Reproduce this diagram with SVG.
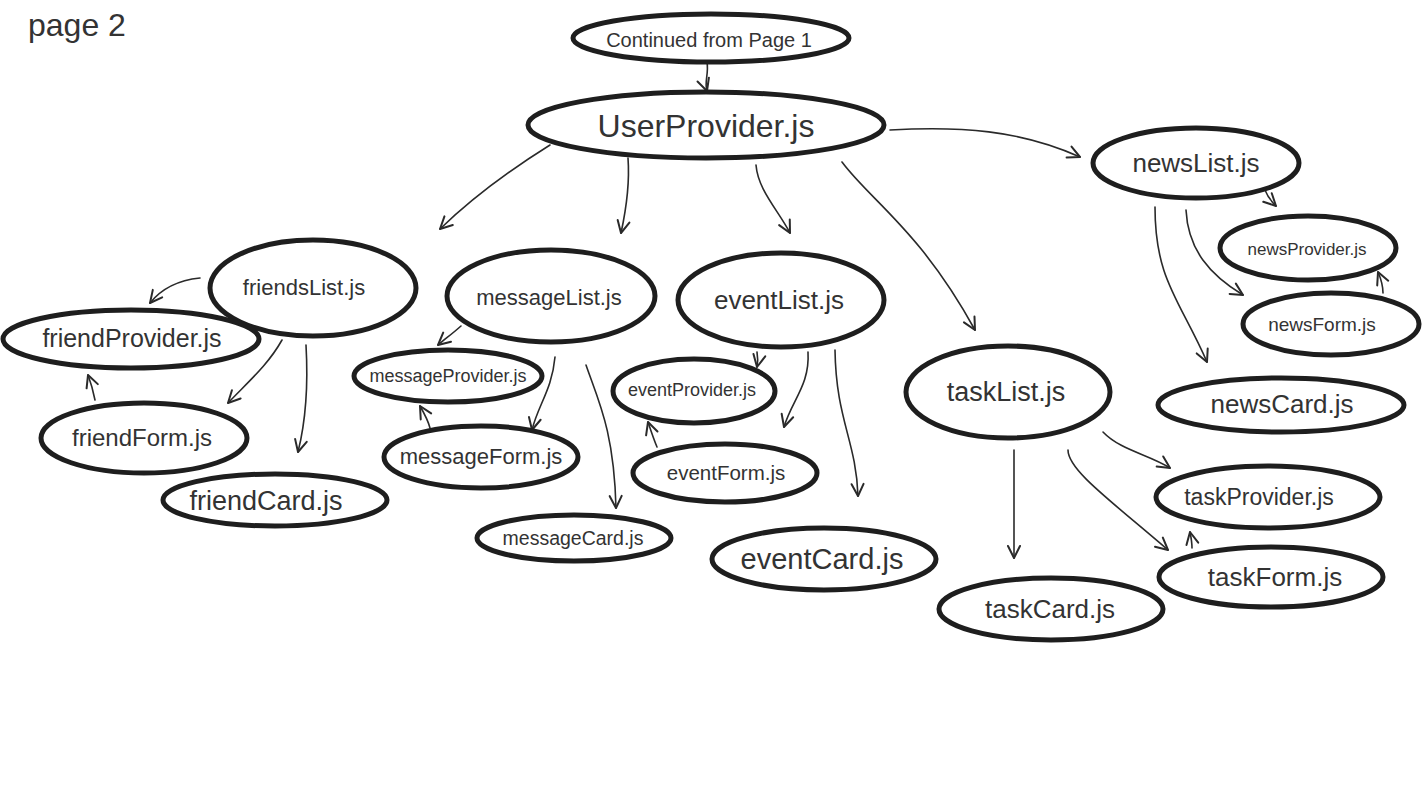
<svg xmlns="http://www.w3.org/2000/svg" width="1422" height="800" viewBox="0 0 1422 800">
  <style>
    .node ellipse { fill: #ffffff; stroke: #1e1e1e; stroke-width: 5; }
    .node text, .title { font-family: "Liberation Sans", Arial, sans-serif; fill: #333333; text-anchor: middle; }
    .title { text-anchor: start; }
    .edges path { fill: none; stroke: #2a2a2a; stroke-width: 1.6; stroke-linecap: round; marker-end: url(#arrow); }
  </style>
  <defs>
    <marker id="arrow" viewBox="0 0 16 16" refX="14" refY="8" markerWidth="16" markerHeight="16" markerUnits="userSpaceOnUse" orient="auto">
      <path d="M2,2 L14,8 L2,14" fill="none" stroke="#2a2a2a" stroke-width="2" stroke-linecap="round" stroke-linejoin="round"/>
    </marker>
  </defs>
  <rect width="1422" height="800" fill="#ffffff"/>

  <text class="title" x="28" y="36" font-size="32">page 2</text>

  <!-- connectors -->
  <g class="edges">
    <path d="M707,62 C709,74 704,82 707,91"/>
    <path d="M890,130 C960,126 1020,130 1080,157"/>
    <path d="M550,145 C510,170 470,200 440,229"/>
    <path d="M628,158 C630,185 626,210 621,233"/>
    <path d="M756,165 C758,190 778,210 790,233"/>
    <path d="M842,162 C870,200 920,230 975,330"/>
    <path d="M1265,190 C1268,198 1272,202 1276,206"/>
    <path d="M1186,210 C1188,250 1210,275 1243,295"/>
    <path d="M1155,207 C1155,280 1180,300 1207,362"/>
    <path d="M1383,293 C1383,285 1381,279 1378,272"/>
    <path d="M200,278 C180,280 162,288 150,303"/>
    <path d="M282,340 C268,365 248,382 228,403"/>
    <path d="M306,345 C308,380 306,420 298,452"/>
    <path d="M95,400 C93,390 91,383 88,375"/>
    <path d="M461,326 C452,334 445,339 438,345"/>
    <path d="M555,357 C552,390 538,405 532,430"/>
    <path d="M586,365 C598,400 614,430 616,508"/>
    <path d="M430,428 C428,420 424,413 420,406"/>
    <path d="M757,352 C758,358 758,362 757,367"/>
    <path d="M808,352 C810,385 792,400 784,427"/>
    <path d="M835,350 C836,420 856,440 858,496"/>
    <path d="M657,447 C654,440 651,431 648,422"/>
    <path d="M1103,432 C1120,450 1150,455 1170,468"/>
    <path d="M1068,450 C1068,470 1110,500 1168,550"/>
    <path d="M1014,450 L1014,558"/>
    <path d="M1192,548 C1192,542 1191,537 1190,532"/>
  </g>

  <!-- nodes -->
  <g id="continued" class="node">
    <ellipse cx="711" cy="38" rx="138" ry="24"/>
    <text x="709" y="47" font-size="20">Continued from Page 1</text>
  </g>
  <g id="userProvider" class="node">
    <ellipse cx="706" cy="125" rx="178" ry="33"/>
    <text x="706" y="137" font-size="32">UserProvider.js</text>
  </g>
  <g id="newsList" class="node">
    <ellipse cx="1196" cy="163" rx="103" ry="35"/>
    <text x="1196" y="172" font-size="26">newsList.js</text>
  </g>
  <g id="newsProvider" class="node">
    <ellipse cx="1308" cy="248" rx="88" ry="32"/>
    <text x="1307" y="255" font-size="17">newsProvider.js</text>
  </g>
  <g id="newsForm" class="node">
    <ellipse cx="1331" cy="324" rx="88" ry="31"/>
    <text x="1322" y="331" font-size="19">newsForm.js</text>
  </g>
  <g id="newsCard" class="node">
    <ellipse cx="1281" cy="405" rx="123" ry="27"/>
    <text x="1282" y="413" font-size="26">newsCard.js</text>
  </g>
  <g id="friendsList" class="node">
    <ellipse cx="313" cy="288" rx="103" ry="48"/>
    <text x="304" y="295" font-size="22">friendsList.js</text>
  </g>
  <g id="friendProvider" class="node">
    <ellipse cx="131" cy="339" rx="128" ry="29"/>
    <text x="132" y="347" font-size="25">friendProvider.js</text>
  </g>
  <g id="friendForm" class="node">
    <ellipse cx="144" cy="438" rx="103" ry="35"/>
    <text x="142" y="446" font-size="24">friendForm.js</text>
  </g>
  <g id="friendCard" class="node">
    <ellipse cx="275" cy="500" rx="112" ry="26"/>
    <text x="266" y="510" font-size="27">friendCard.js</text>
  </g>
  <g id="messageList" class="node">
    <ellipse cx="551" cy="296" rx="104" ry="46"/>
    <text x="549" y="305" font-size="22">messageList.js</text>
  </g>
  <g id="messageProvider" class="node">
    <ellipse cx="448" cy="376" rx="94" ry="26"/>
    <text x="448" y="382" font-size="18">messageProvider.js</text>
  </g>
  <g id="messageForm" class="node">
    <ellipse cx="481" cy="457" rx="97" ry="31"/>
    <text x="481" y="464" font-size="22">messageForm.js</text>
  </g>
  <g id="messageCard" class="node">
    <ellipse cx="574" cy="538" rx="97" ry="23"/>
    <text x="573" y="545" font-size="19.5">messageCard.js</text>
  </g>
  <g id="eventList" class="node">
    <ellipse cx="781" cy="300" rx="103" ry="47"/>
    <text x="779" y="309" font-size="26">eventList.js</text>
  </g>
  <g id="eventProvider" class="node">
    <ellipse cx="694" cy="391" rx="81" ry="32"/>
    <text x="692" y="396" font-size="18">eventProvider.js</text>
  </g>
  <g id="eventForm" class="node">
    <ellipse cx="725" cy="473" rx="92" ry="29"/>
    <text x="726" y="480" font-size="20.5">eventForm.js</text>
  </g>
  <g id="eventCard" class="node">
    <ellipse cx="824" cy="559" rx="112" ry="31"/>
    <text x="822" y="569" font-size="29">eventCard.js</text>
  </g>
  <g id="taskList" class="node">
    <ellipse cx="1008" cy="392" rx="102" ry="46"/>
    <text x="1006" y="401" font-size="27">taskList.js</text>
  </g>
  <g id="taskProvider" class="node">
    <ellipse cx="1268" cy="497" rx="112" ry="31"/>
    <text x="1259" y="505" font-size="23">taskProvider.js</text>
  </g>
  <g id="taskForm" class="node">
    <ellipse cx="1271" cy="577" rx="112" ry="30"/>
    <text x="1275" y="586" font-size="26">taskForm.js</text>
  </g>
  <g id="taskCard" class="node">
    <ellipse cx="1051" cy="609" rx="112" ry="31"/>
    <text x="1050" y="618" font-size="26">taskCard.js</text>
  </g>
</svg>
